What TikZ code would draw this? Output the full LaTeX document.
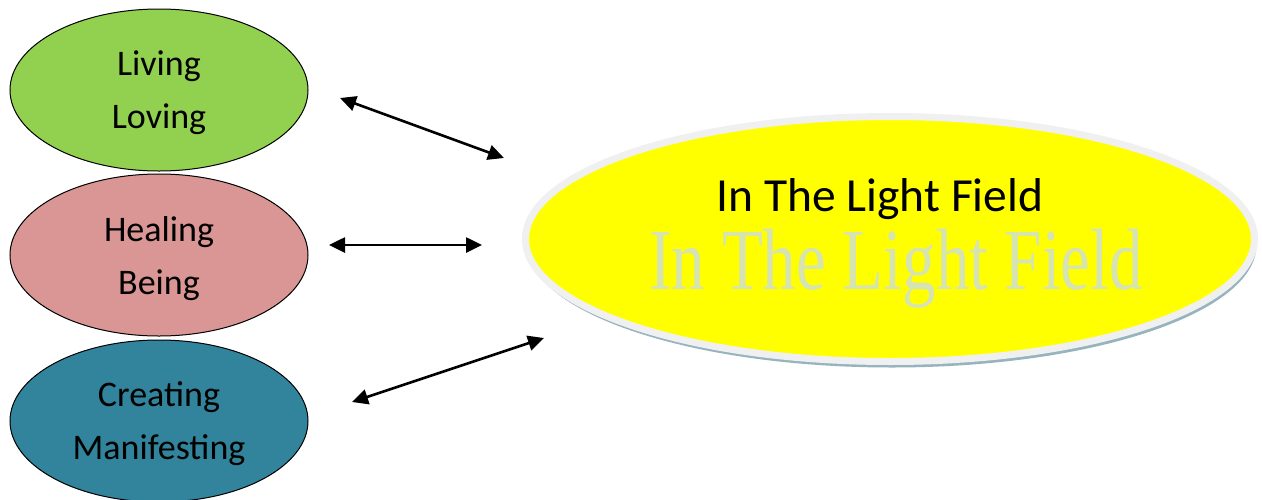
\documentclass[tikz,border=0pt]{standalone}
\usepackage{fontspec}
\setmainfont{Carlito}
\newfontfamily\markfont{Liberation Serif}
\usepackage{tikz}
\usetikzlibrary{shapes.geometric,arrows.meta,shadows}
\definecolor{leaf}{RGB}{146,208,80}
\definecolor{rose}{RGB}{217,150,148}
\definecolor{teal}{RGB}{49,132,155}
\definecolor{rim}{RGB}{240,240,240}
\definecolor{shade}{RGB}{150,180,190}
\definecolor{ghostgreen}{RGB}{214,227,178}
\definecolor{sun}{RGB}{255,255,0}

\begin{document}
\begin{tikzpicture}[x=1pt,y=-1pt,
  blob/.style={ellipse,draw=black,line width=1pt,inner sep=0pt,
    minimum width=298pt,minimum height=162pt,align=center,text depth=0pt,
    font=\fontsize{36}{53}\selectfont},
  link/.style={line width=2.6pt,{Triangle[length=16pt,width=15pt]}-{Triangle[length=16pt,width=15pt]}}]
 \useasboundingbox (0,0) rectangle (1262,499);
 \fill[white] (0,0) rectangle (1262,499);
 % left side
 \node[blob,fill=leaf] (living) at (159,90) {Living\\Loving};
 \node[blob,fill=rose] (healing) at (159,255) {Healing\\Being};
 \node[blob,fill=teal] (creating) at (159,421) {Creating\\Manifesting};
 % the field
 \node[ellipse,fill=sun,draw=rim,line width=7pt,inner sep=0pt,
   minimum width=729pt,minimum height=245pt,
   drop shadow={shadow xshift=2pt,shadow yshift=-6pt,fill=shade,opacity=1}]
   (field) at (890,239) {};
 \node[ghostgreen,anchor=base,yscale=1.3,font=\markfont\fontsize{67}{67}\selectfont]
   (ghost) at (896,289) {In The Light Field};
 \node[anchor=base,font=\fontsize{47.5}{47.5}\selectfont] (title) at (880,211) {In The Light Field};
 % arrows
 \coordinate (l1) at (340,98);  \coordinate (r1) at (504,158);
 \coordinate (l2) at (329,245); \coordinate (r2) at (482,245);
 \coordinate (l3) at (352,402); \coordinate (r3) at (544,338);
 \foreach \a/\b in {l1/r1,l2/r2,l3/r3}
   \draw[link] (\a)--(\b);
\end{tikzpicture}
\end{document}
